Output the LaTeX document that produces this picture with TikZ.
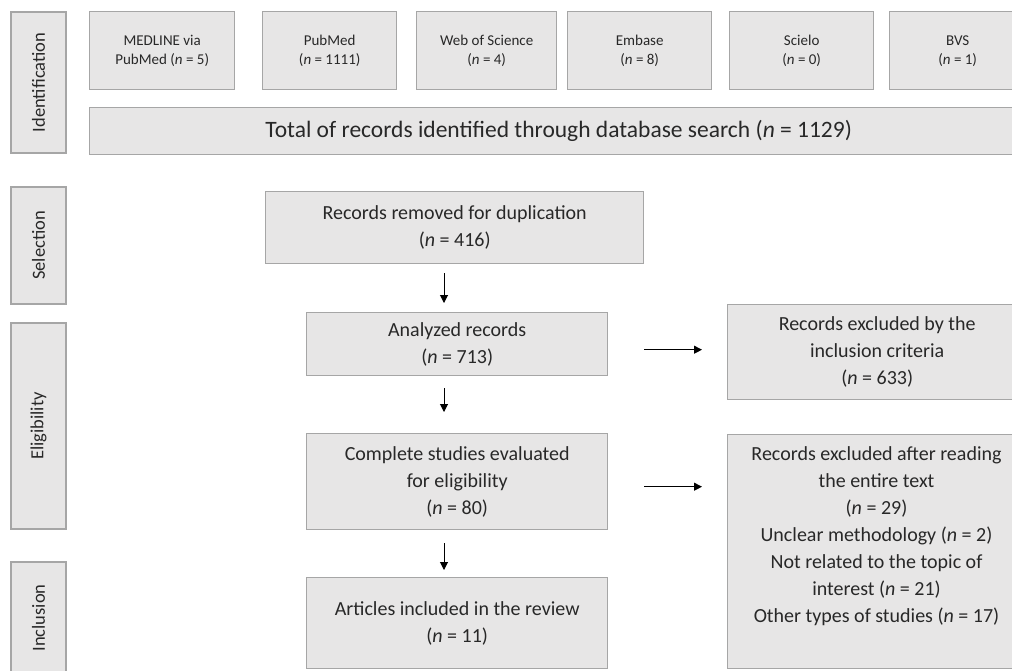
\documentclass[tikz,border=0pt]{standalone}
\usepackage{fontspec}
\setmainfont{Carlito}
\usetikzlibrary{arrows.meta}
\definecolor{boxfill}{RGB}{231,230,230}
\definecolor{boxline}{RGB}{166,166,166}
\definecolor{txt}{RGB}{40,40,40}
\begin{document}
\begin{tikzpicture}[x=1pt,y=-1pt,
  box/.style={draw=boxline, fill=boxfill, line width=1.4pt, text=txt, align=center, inner sep=0pt, anchor=north west},
  sidebox/.style={draw=boxline, fill=boxfill, line width=1.4pt, text=txt, inner sep=0pt, rotate=90, minimum height=55pt, font=\fontsize{18.5}{22}\selectfont},
  small/.style={font=\fontsize{15}{19}\selectfont},
  mid/.style={font=\fontsize{20}{27}\selectfont},
  arr/.style={draw=black, line width=1pt, -{Triangle[length=8pt,width=8pt]}}]
\useasboundingbox (0,0) rectangle (1012,670);
\clip (0,0) rectangle (1012,670);

% phase labels
\node[sidebox, minimum width=141pt] (ident) at (38.5,82.5) {Identification};
\node[sidebox, minimum width=117pt] (sel) at (38.5,245.5) {Selection};
\node[sidebox, minimum width=206pt] (elig) at (38.5,426) {Eligibility};
\node[sidebox, minimum width=112pt] (incl) at (38.5,618) {Inclusion};

% databases
\node[box, small, minimum width=145pt, minimum height=78pt] (medline) at (89,11) {MEDLINE via\\PubMed (\textit{n} = 5)};
\node[box, small, minimum width=134pt, minimum height=78pt] (pubmed) at (262,11) {PubMed\\(\textit{n} = 1111)};
\node[box, small, minimum width=140pt, minimum height=78pt] (wos) at (416,11) {Web of Science\\(\textit{n} = 4)};
\node[box, small, minimum width=144pt, minimum height=78pt] (embase) at (567,11) {Embase\\(\textit{n} = 8)};
\node[box, small, minimum width=144pt, minimum height=78pt] (scielo) at (729,11) {Scielo\\(\textit{n} = 0)};
\node[box, small, minimum width=136pt, minimum height=78pt] (bvs) at (889,11) {BVS\\(\textit{n} = 1)};

\node[box, font=\fontsize{23.5}{28}\selectfont, minimum width=938pt, minimum height=47pt] (total) at (89,107) {Total of records identified through database search (\textit{n} = 1129)};

% main flow
\node[box, mid, minimum width=378pt, minimum height=72pt] (dup) at (265,191) {Records removed for duplication\\(\textit{n} = 416)};
\node[box, mid, minimum width=301pt, minimum height=63pt] (ana) at (306,312) {Analyzed records\\(\textit{n} = 713)};
\node[box, mid, minimum width=301pt, minimum height=96pt] (comp) at (306,433) {Complete studies evaluated\\for eligibility\\(\textit{n} = 80)};
\node[box, mid, minimum width=301pt, minimum height=91pt] (art) at (306,577) {Articles included in the review\\(\textit{n} = 11)};

% exclusions
\node[box, mid, minimum width=299pt, minimum height=95pt] (excl1) at (727,304) {Records excluded by the\\inclusion criteria\\(\textit{n} = 633)};
\node[box, minimum width=299pt, minimum height=234pt] (excl2) at (727,434) {};
\node[mid, text=txt, align=center, inner sep=0pt, anchor=north] (excl2t) at (876.5,446) {Records excluded after reading\\the entire text\\(\textit{n} = 29)\\Unclear methodology (\textit{n} = 2)\\Not related to the topic of\\interest (\textit{n} = 21)\\Other types of studies (\textit{n} = 17)};

% connectors
\coordinate (ax) at (444,0);
\draw[arr, shorten <=9pt, shorten >=9pt] (dup.south -| ax) -- (ana.north -| ax);
\draw[arr, shorten <=12pt, shorten >=21pt] (ana.south -| ax) -- (comp.north -| ax);
\draw[arr, shorten <=13pt, shorten >=7pt] (comp.south -| ax) -- (art.north -| ax);
\draw[arr, shorten <=36pt, shorten >=25pt] ([yshift=-5.5pt]ana.east) -- ([yshift=-5.5pt]ana.east -| excl1.west);
\draw[arr, shorten <=36pt, shorten >=25pt] ([yshift=-5pt]comp.east) -- ([yshift=-5pt]comp.east -| excl2.west);
\end{tikzpicture}
\end{document}
